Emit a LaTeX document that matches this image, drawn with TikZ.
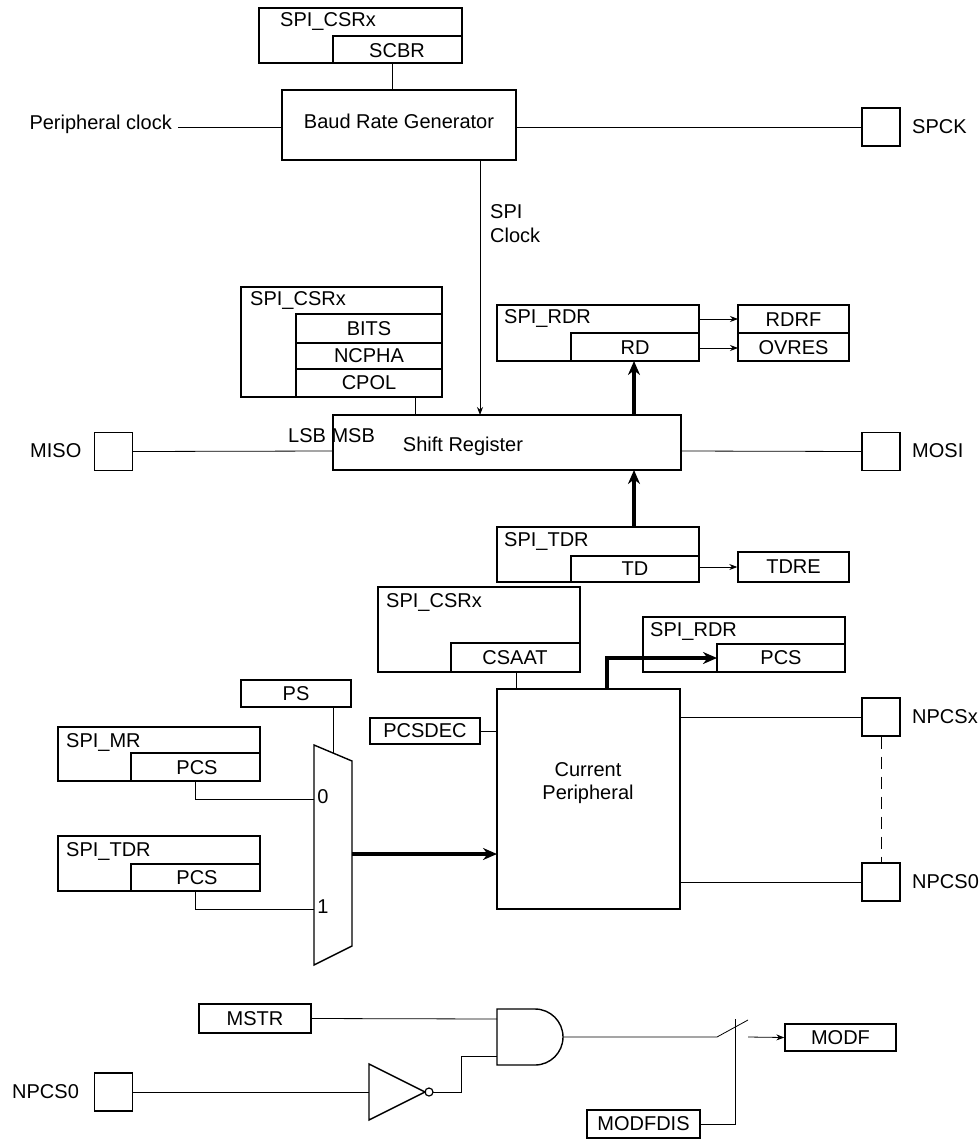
\documentclass[tikz,border=0pt]{standalone}
\usepackage{fontspec}
\setmainfont{Liberation Sans}
\usetikzlibrary{arrows.meta}
\begin{document}
\begin{tikzpicture}[x=1pt,y=-1pt,
  bx/.style={draw,line width=1.4pt},
  ln/.style={draw,line width=0.8pt},
  ar/.style={ln,-{Stealth[length=8pt,width=6pt]}},
  thk/.style={draw,line width=3.2pt,-{Stealth[length=14pt,width=12pt]}},
  t/.style={font=\fontsize{20}{23}\selectfont,inner sep=0pt},
  pin/.style={draw,line width=1.2pt,minimum width=38pt,minimum height=38pt,inner sep=0pt}]
\useasboundingbox (0,0) rectangle (979,1148);
% top CSR
\draw[bx] (259,8) rectangle (462,63); \draw[bx] (333,36) rectangle (462,63);
\node[t,anchor=west] (csr1) at (280,22) {SPI\_CSRx};
\node[t] (scbr) at (397,51) {SCBR};
\draw[ln] (392,63) -- (392,90);
\node[bx,minimum width=234pt,minimum height=70pt] (brg) at (399,125) {};
\node[t] (brgt) at (399,121) {Baud Rate Generator};
\node[t,anchor=east] (pclk) at (172,124) {Peripheral clock};
\draw[ln] (178,127) -- (282,127);
\node[pin] (spck) at (881,127) {};
\node[t,anchor=west] (spckt) at (912,127) {SPCK};
\draw[ln] (516,127) -- (spck.west);
\node[t,anchor=west] (spi) at (490,212) {SPI};
\node[t,anchor=west] (clk) at (490,235) {Clock};
% shift register
\draw[bx] (333,415) rectangle (681,470);
\node[t] (srt) at (463,446) {Shift Register};
\node[t,anchor=west] (lsb) at (288,436) {LSB MSB};
\draw[ar] (480,160) -- (480,415);
\node[pin] (miso) at (113.5,451.5) {}; \node[t,anchor=west] (misot) at (30,451) {MISO};
\node[pin] (mosi) at (881,451.5) {}; \node[t,anchor=west] (mosit) at (912,451) {MOSI};
\draw[ln] (miso.east) -- (333,451);
\draw[ln] (681,451) -- (mosi.west);
% CSR2
\draw[bx] (241,287) rectangle (442,397);
\draw[bx] (296,314) rectangle (442,343); \draw[bx] (296,343) rectangle (442,369); \draw[bx] (296,369) rectangle (442,397);
\node[t,anchor=west] (csr2) at (250,301) {SPI\_CSRx};
\node[t] (bits) at (369,329) {BITS};
\node[t] (ncpha) at (369,356) {NCPHA};
\node[t] (cpol) at (369,383) {CPOL};
\draw[ln] (415,397) -- (415,415);
% RDR
\draw[bx] (497,305) rectangle (699,361); \draw[bx] (571,333) rectangle (699,361);
\node[t,anchor=west] (rdr) at (504,319) {SPI\_RDR};
\node[t] (rd) at (635,348) {RD};
\draw[bx] (738,305) rectangle (849,333); \draw[bx] (738,333) rectangle (849,361);
\node[t] (rdrf) at (793.5,320) {RDRF};
\node[t] (ovres) at (793.5,348) {OVRES};
\draw[ar] (699,319) -- (738,319);
\draw[ar] (699,348) -- (738,348);
\draw[thk] (634,415) -- (634,361);
% TDR
\draw[bx] (497,527) rectangle (699,582); \draw[bx] (571,556) rectangle (699,582);
\node[t,anchor=west] (tdr) at (504,541) {SPI\_TDR};
\node[t] (td) at (635,569) {TD};
\node[bx,minimum width=111pt,minimum height=30pt,inner sep=0pt,t] (tdre) at (793.5,567) {TDRE};
\draw[ar] (699,567) -- (tdre.west);
\draw[thk] (634,527) -- (634,470);
% CSR3
\draw[bx] (378,587) rectangle (580,672); \draw[bx] (451,643) rectangle (580,672);
\node[t,anchor=west] (csr3) at (386,602) {SPI\_CSRx};
\node[t] (csaat) at (515,658) {CSAAT};
% RDR2
\draw[bx] (643,617) rectangle (845,672); \draw[bx] (717,644) rectangle (845,672);
\node[t,anchor=west] (rdr2) at (650,631) {SPI\_RDR};
\node[t] (pcs3) at (781,658) {PCS};
% Current peripheral
\node[bx,minimum width=183pt,minimum height=220pt] (cp) at (588.5,799) {};
\node[t] (cpt1) at (588,770) {Current};
\node[t] (cpt2) at (588,794) {Peripheral};
\draw[ln] (516,672) -- (516,689);
\draw[thk] (607,689) -- (607,658) -- (717,658);
\node[bx,minimum width=110pt,minimum height=26pt,inner sep=0pt,t] (pcsdec) at (425,731) {PCSDEC};
\draw[ln] (pcsdec.east) -- (497,731);
\node[pin] (npx) at (881,717) {}; \node[t,anchor=west] (npxt) at (912,717) {NPCSx};
\node[pin] (np0) at (881,882) {}; \node[t,anchor=west] (np0t) at (912,882) {NPCS0};
\draw[ln] (680,717) -- (npx.west);
\draw[ln] (680,882) -- (np0.west);
\draw[ln,dash pattern=on 12pt off 8pt] (npx.south) -- (np0.north);
% mux
\node[bx,minimum width=110pt,minimum height=27pt,inner sep=0pt,t] (ps) at (296,693.5) {PS};
\draw[bx] (314,745) -- (352,761) -- (352,946) -- (314,965) -- cycle;
\draw[ln] (333,707) -- (333,753);
\node[t] (m0) at (323,797) {0};
\node[t] (m1) at (323,907) {1};
\draw[bx] (58,727) rectangle (260,781); \draw[bx] (131,753) rectangle (260,781);
\node[t,anchor=west] (mr) at (66,742) {SPI\_MR};
\node[t] (pcs1) at (197,768) {PCS};
\draw[ln] (195,781) -- (195,799) -- (314,799);
\draw[bx] (58,836) rectangle (260,891); \draw[bx] (131,864) rectangle (260,891);
\node[t,anchor=west] (tdr2) at (66,851) {SPI\_TDR};
\node[t] (pcs2) at (197,878) {PCS};
\draw[ln] (195,891) -- (195,909) -- (314,909);
\draw[thk] (352,854) -- (497,854);
% bottom logic
\node[bx,minimum width=112pt,minimum height=29pt,inner sep=0pt,t] (mstr) at (255,1018.5) {MSTR};
\draw[bx] (497,1009) -- (535,1009) arc[start angle=-90,end angle=90,radius=28] -- (497,1065) -- cycle;
\coordinate (andout) at (563,1037);
\draw[ln] (mstr.east) -- (497,1019);
\node[pin] (np0b) at (113.5,1092) {}; \node[t,anchor=west] (np0bt) at (12,1092) {NPCS0};
\draw[bx] (369,1064) -- (425,1092) -- (369,1120) -- cycle;
\draw[line width=1.2pt] (429,1092) circle (4);
\draw[ln] (np0b.east) -- (369,1092);
\draw[ln] (433,1092) -- (461,1092) -- (461,1056) -- (497,1056);
\draw[ln] (andout) -- (717,1037) -- (748,1020);
\node[bx,minimum width=111pt,minimum height=27pt,inner sep=0pt,t] (modf) at (840.5,1037.5) {MODF};
\draw[ar] (748,1037) -- (modf.west);
\node[bx,minimum width=113pt,minimum height=28pt,inner sep=0pt,t] (modfdis) at (643.5,1124) {MODFDIS};
\draw[ln] (modfdis.east) -- (735,1124) -- (735,1019);
\end{tikzpicture}
\end{document}
